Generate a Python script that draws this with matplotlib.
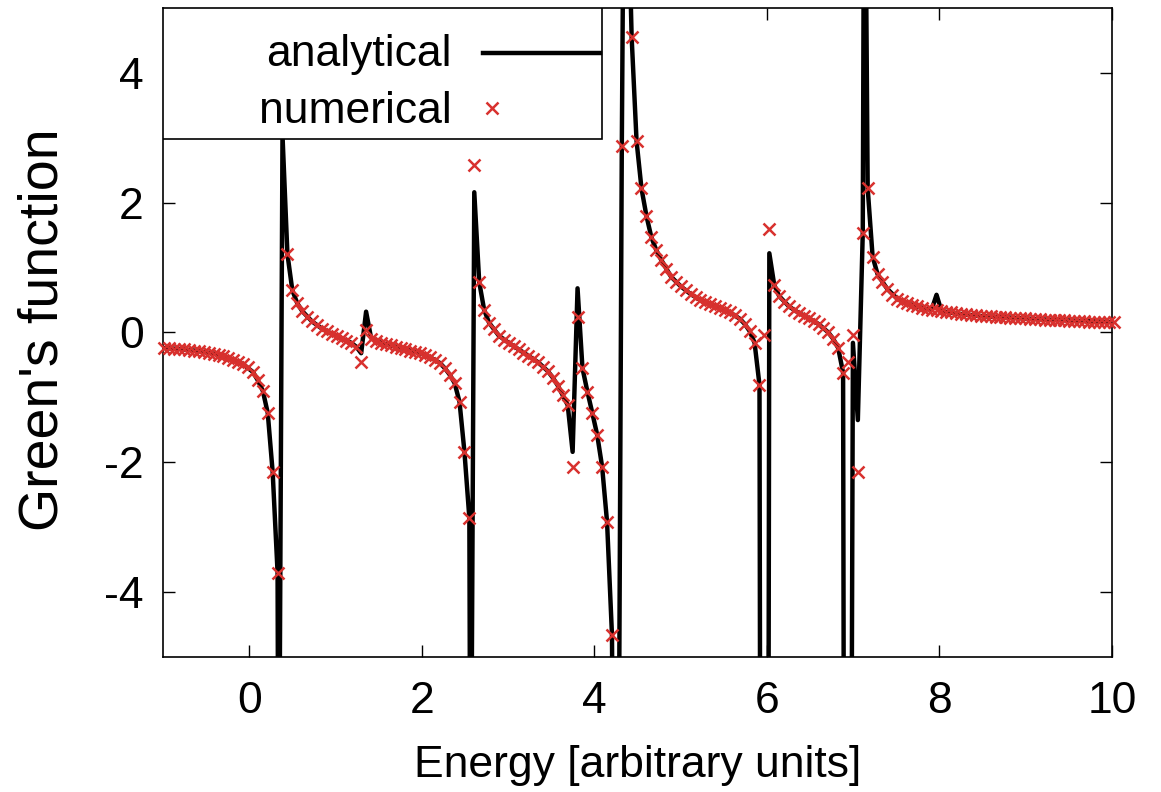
import matplotlib.pyplot as plt
from matplotlib.patches import Rectangle

plt.rcParams['font.family'] = ['Liberation Sans', 'DejaVu Sans']
plt.rcParams['axes.unicode_minus'] = False

# numerical points (red crosses)
energy_num = [-0.983, -0.926, -0.869, -0.812, -0.755, -0.698, -0.641, -0.584, -0.527, -0.470,
              -0.413, -0.356, -0.299, -0.242, -0.185, -0.128, -0.071, -0.014, 0.043, 0.100,
              0.157, 0.214, 0.271, 0.328, 0.442, 0.499, 0.556, 0.613, 0.670, 0.727,
              0.784, 0.841, 0.898, 0.955, 1.012, 1.069, 1.126, 1.183, 1.240, 1.297,
              1.354, 1.411, 1.468, 1.525, 1.582, 1.639, 1.696, 1.753, 1.810, 1.867,
              1.924, 1.981, 2.038, 2.095, 2.152, 2.209, 2.266, 2.323, 2.380, 2.437,
              2.494, 2.551, 2.608, 2.665, 2.722, 2.779, 2.836, 2.893, 2.950, 3.007,
              3.064, 3.121, 3.178, 3.235, 3.292, 3.349, 3.406, 3.463, 3.520, 3.577,
              3.634, 3.691, 3.748, 3.805, 3.862, 3.919, 3.976, 4.033, 4.090, 4.147,
              4.204, 4.318, 4.432, 4.489, 4.546, 4.603, 4.660, 4.717, 4.774, 4.831,
              4.888, 4.945, 5.002, 5.059, 5.116, 5.173, 5.230, 5.287, 5.344, 5.401,
              5.458, 5.515, 5.572, 5.629, 5.686, 5.743, 5.800, 5.857, 5.914, 5.971,
              6.028, 6.085, 6.142, 6.199, 6.256, 6.313, 6.370, 6.427, 6.484, 6.541,
              6.598, 6.655, 6.712, 6.769, 6.826, 6.883, 6.940, 6.997, 7.054, 7.111,
              7.168, 7.225, 7.282, 7.339, 7.396, 7.453, 7.510, 7.567, 7.624, 7.681,
              7.738, 7.795, 7.852, 7.909, 7.966, 8.023, 8.080, 8.137, 8.194, 8.251,
              8.308, 8.365, 8.422, 8.479, 8.536, 8.593, 8.650, 8.707, 8.764, 8.821,
              8.878, 8.935, 8.992, 9.049, 9.106, 9.163, 9.220, 9.277, 9.334, 9.391,
              9.448, 9.505, 9.562, 9.619, 9.676, 9.733, 9.790, 9.847, 9.904, 9.961,
              10.018]
green_num = [-0.24, -0.245, -0.25, -0.255, -0.26, -0.27, -0.28, -0.29, -0.30, -0.315,
             -0.33, -0.35, -0.37, -0.39, -0.42, -0.45, -0.49, -0.54, -0.61, -0.74,
             -0.90, -1.24, -2.15, -3.70, 1.21, 0.65, 0.45, 0.33, 0.24, 0.17,
             0.11, 0.06, 0.02, -0.02, -0.06, -0.09, -0.13, -0.16, -0.22, -0.45,
             0.04, -0.10, -0.13, -0.16, -0.18, -0.20, -0.22, -0.24, -0.26, -0.28,
             -0.30, -0.32, -0.35, -0.38, -0.42, -0.47, -0.55, -0.65, -0.78, -1.07,
             -1.84, -2.86, 2.58, 0.78, 0.35, 0.15, 0.05, -0.05, -0.11, -0.16,
             -0.21, -0.26, -0.31, -0.36, -0.41, -0.46, -0.53, -0.60, -0.70, -0.82,
             -0.97, -1.12, -2.07, 0.24, -0.55, -0.91, -1.24, -1.58, -2.07, -2.92,
             -4.66, 2.87, 4.55, 2.95, 2.22, 1.80, 1.47, 1.27, 1.12, 0.98,
             0.86, 0.78, 0.71, 0.65, 0.59, 0.54, 0.50, 0.47, 0.44, 0.41,
             0.38, 0.35, 0.31, 0.27, 0.21, 0.13, 0.02, -0.16, -0.81, -0.04,
             1.60, 0.73, 0.56, 0.47, 0.40, 0.34, 0.30, 0.26, 0.22, 0.18,
             0.13, 0.07, 0.00, -0.10, -0.24, -0.62, -0.45, -0.04, -2.15, 1.53,
             2.22, 1.17, 0.90, 0.78, 0.67, 0.58, 0.52, 0.48, 0.45, 0.42,
             0.40, 0.38, 0.36, 0.35, 0.34, 0.33, 0.32, 0.31, 0.30, 0.29,
             0.28, 0.27, 0.265, 0.26, 0.255, 0.25, 0.245, 0.24, 0.235, 0.23,
             0.225, 0.22, 0.215, 0.21, 0.205, 0.20, 0.197, 0.194, 0.19, 0.187,
             0.184, 0.18, 0.177, 0.174, 0.171, 0.168, 0.165, 0.163, 0.161, 0.159,
             0.158]

# analytical curve (black line), values beyond +-5 are clipped by the axes
energy_ana = [-1.0, -0.8, -0.6, -0.4, -0.2, -0.07, 0.043, 0.1, 0.157, 0.214,
              0.271, 0.328, 0.34, 0.385, 0.442, 0.499, 0.556, 0.613, 0.727, 0.841,
              0.955, 1.069, 1.183, 1.240, 1.297, 1.354, 1.411, 1.525, 1.639, 1.753,
              1.867, 1.981, 2.095, 2.209, 2.266, 2.323, 2.380, 2.437, 2.494, 2.551,
              2.565, 2.608, 2.665, 2.722, 2.779, 2.836, 2.893, 3.007, 3.121, 3.235,
              3.349, 3.463, 3.520, 3.577, 3.634, 3.691, 3.748, 3.805, 3.862, 3.919,
              3.976, 4.033, 4.090, 4.147, 4.204, 4.225, 4.275, 4.318, 4.35, 4.432,
              4.489, 4.546, 4.603, 4.660, 4.717, 4.774, 4.888, 5.002, 5.116, 5.230,
              5.344, 5.458, 5.572, 5.686, 5.743, 5.800, 5.857, 5.914, 5.925, 6.015,
              6.028, 6.085, 6.142, 6.256, 6.370, 6.484, 6.598, 6.712, 6.769, 6.826,
              6.883, 6.895, 6.975, 6.997, 7.054, 7.111, 7.13, 7.168, 7.225, 7.282,
              7.339, 7.396, 7.510, 7.624, 7.738, 7.852, 7.909, 7.966, 8.023, 8.2,
              8.5, 8.8, 9.2, 9.6, 10.0]
green_ana = [-0.24, -0.255, -0.285, -0.33, -0.41, -0.49, -0.61, -0.74, -0.90, -1.24,
             -2.15, -3.70, -9.0, 3.04, 1.21, 0.65, 0.45, 0.33, 0.17, 0.06,
             -0.02, -0.09, -0.16, -0.22, -0.32, 0.32, -0.08, -0.16, -0.20, -0.24,
             -0.28, -0.32, -0.38, -0.47, -0.55, -0.65, -0.78, -1.07, -1.84, -2.86,
             -9.0, 2.16, 0.78, 0.35, 0.15, 0.05, -0.05, -0.16, -0.26, -0.36,
             -0.46, -0.60, -0.70, -0.82, -0.97, -1.12, -1.84, 0.68, -0.55, -0.91,
             -1.24, -1.58, -2.07, -2.92, -4.66, -9.0, -9.0, 2.87, 9.0, 4.55,
             2.95, 2.22, 1.80, 1.47, 1.27, 1.12, 0.86, 0.71, 0.59, 0.50,
             0.44, 0.38, 0.31, 0.21, 0.13, 0.02, -0.16, -0.81, -9.0, -9.0,
             1.22, 0.73, 0.56, 0.40, 0.30, 0.22, 0.13, 0.00, -0.10, -0.24,
             -0.62, -9.0, -9.0, -0.16, -1.35, 1.53, 9.0, 2.22, 1.17, 0.90,
             0.78, 0.67, 0.52, 0.45, 0.40, 0.36, 0.35, 0.58, 0.33, 0.29,
             0.25, 0.23, 0.20, 0.18, 0.16]

red = '#d8312e'
fs = 32

fig = plt.figure(figsize=(11.61, 7.92), dpi=100)
ax = fig.add_axes([0.1404, 0.1705, 0.8174, 0.8195])

ax.plot(energy_ana, green_ana, color='black', lw=3.2, zorder=2)
ax.plot(energy_num, green_num, 'x', color=red, ms=9, mew=1.8, zorder=3, clip_on=False)

ax.set_xlim(-1, 10)
ax.set_ylim(-5, 5)
ax.set_xticks([0, 2, 4, 6, 8, 10])
ax.set_yticks([-4, -2, 0, 2, 4])
ax.tick_params(direction='in', length=8.5, width=1, top=True, right=True,
               labelsize=fs)
ax.tick_params(axis='x', pad=17)
ax.tick_params(axis='y', pad=14)
for s in ax.spines.values():
    s.set_linewidth(1.2)

ax.set_xlabel('Energy [arbitrary units]', fontsize=fs)
ax.set_ylabel("Green's function", fontsize=40)
ax.xaxis.set_label_coords(0.5, -0.135)
ax.yaxis.set_label_coords(-0.099, 0.505)

# legend box drawn like the gnuplot key
ax.add_patch(Rectangle((0, 0.7985), 0.4626, 0.2015, transform=ax.transAxes,
                       facecolor='white', edgecolor='black', lw=1.2, zorder=5))
ax.text(0.3045, 0.9108, 'analytical', transform=ax.transAxes, ha='right',
        va='baseline', fontsize=fs, zorder=6)
ax.text(0.3045, 0.823, 'numerical', transform=ax.transAxes, ha='right',
        va='baseline', fontsize=fs, zorder=6)
ax.plot([0.337, 0.4605], [0.931, 0.931], color='black', lw=3.2,
        transform=ax.transAxes, zorder=6)
ax.plot([0.3467], [0.846], 'x', color=red, ms=9, mew=1.8,
        transform=ax.transAxes, zorder=6)

fig.savefig('out.png', dpi=100)
